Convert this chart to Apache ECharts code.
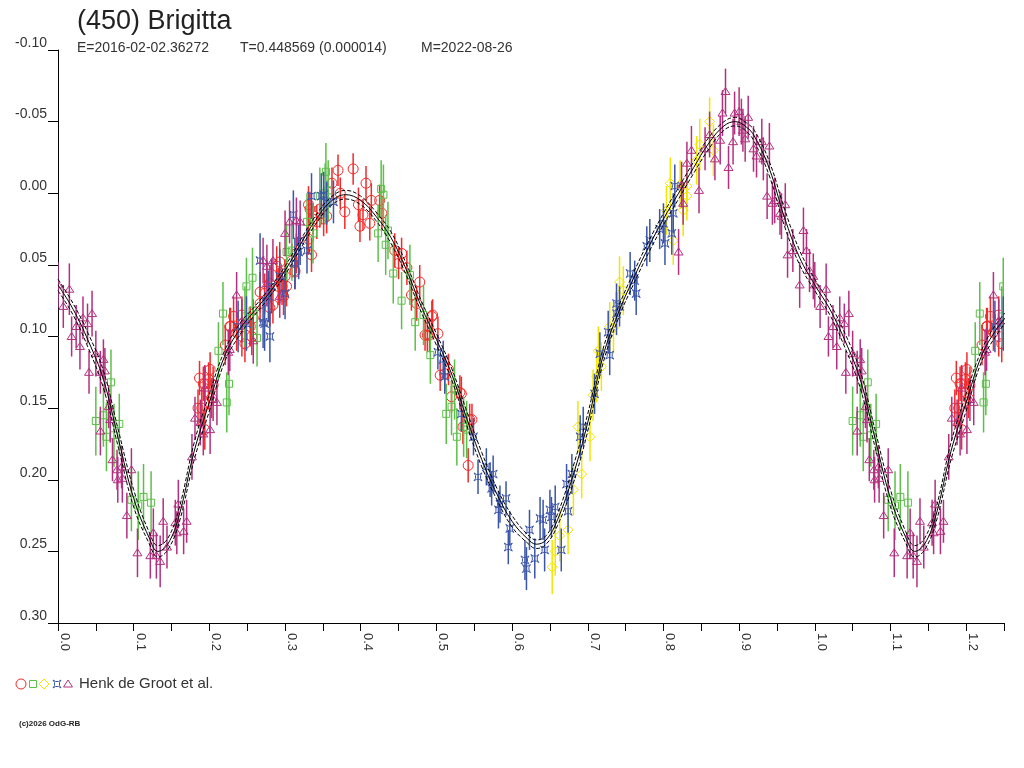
<!DOCTYPE html>
<html>
<head>
    <meta charset="utf-8">
    <title>(450) Brigitta</title>
    <script src="https://cdn.jsdelivr.net/npm/echarts@6/dist/echarts.min.js"></script>
</head>
<body style="margin:0">
    <div id="main" style="width:1024px; height:768px"></div>
    <script type="text/javascript">
        // observations: [phase, magnitude, error]
        var redObs = [
            [0.187,0.129,0.012],[0.194,0.133,0.013],[0.199,0.139,0.012],[0.203,0.143,0.014],[0.201,0.123,0.012],
            [0.190,0.150,0.013],[0.194,0.165,0.014],[0.199,0.130,0.012],[0.205,0.134,0.013],[0.192,0.133,0.012],
            [0.185,0.150,0.013],[0.221,0.106,0.014],[0.227,0.093,0.013],[0.232,0.086,0.014],[0.236,0.097,0.013],
            [0.243,0.100,0.014],[0.247,0.105,0.013],[0.254,0.093,0.014],[0.256,0.100,0.013],[0.267,0.069,0.014],
            [0.267,0.077,0.013],[0.273,0.070,0.014],[0.280,0.080,0.013],[0.289,0.051,0.014],[0.291,0.065,0.013],
            [0.293,0.048,0.014],[0.298,0.072,0.013],[0.302,0.065,0.014],[0.313,0.054,0.013],[0.315,0.042,0.014],
            [0.331,0.008,0.013],[0.342,0.020,0.012],[0.346,0.011,0.013],[0.355,0.016,0.012],[0.370,-0.016,0.011],
            [0.390,-0.017,0.011],[0.407,-0.007,0.012],[0.373,0.000,0.011],[0.379,0.013,0.012],[0.362,-0.007,0.011],
            [0.397,0.008,0.012],[0.399,0.023,0.011],[0.412,0.021,0.012],[0.403,0.015,0.011],[0.414,0.005,0.012],
            [0.425,0.005,0.011],[0.428,0.014,0.012],[0.333,0.011,0.012],[0.337,0.018,0.011],[0.351,0.018,0.012],
            [0.331,0.032,0.011],[0.335,0.043,0.012],[0.309,0.047,0.012],[0.313,0.055,0.011],[0.300,0.058,0.012],
            [0.445,0.040,0.012],[0.454,0.042,0.011],[0.461,0.052,0.012],[0.450,0.049,0.011],[0.478,0.062,0.012],
            [0.467,0.071,0.011],[0.474,0.077,0.012],[0.494,0.086,0.011],[0.491,0.099,0.012],[0.485,0.099,0.011],
            [0.502,0.098,0.012],[0.505,0.127,0.011],[0.511,0.126,0.012],[0.520,0.142,0.011],[0.533,0.140,0.012],
            [0.544,0.158,0.011],[0.542,0.190,0.012],[0.495,0.085,0.011],[0.488,0.099,0.012],[0.516,0.123,0.011],
            [0.531,0.139,0.012],[0.547,0.158,0.011],[0.535,0.163,0.012],[0.228,0.093,0.013],[0.243,0.085,0.013],
            [0.258,0.087,0.013],[0.280,0.063,0.013],[0.284,0.078,0.013],[0.296,0.065,0.013]
        ];
        var greenObs = [
            [0.050,0.159,0.024],[0.060,0.155,0.022],[0.070,0.132,0.023],[0.064,0.170,0.024],[0.074,0.169,0.022],
            [0.081,0.161,0.021],[0.097,0.214,0.022],[0.106,0.218,0.024],[0.113,0.212,0.023],[0.123,0.216,0.022],
            [0.212,0.110,0.020],[0.218,0.084,0.022],[0.223,0.146,0.021],[0.226,0.133,0.022],[0.249,0.065,0.020],
            [0.257,0.059,0.021],[0.257,0.082,0.020],[0.247,0.086,0.021],[0.263,0.101,0.020],[0.302,0.041,0.020],
            [0.309,0.040,0.021],[0.329,0.020,0.020],[0.337,0.028,0.021],[0.346,0.002,0.020],[0.353,0.000,0.021],
            [0.354,-0.015,0.020],[0.357,-0.002,0.021],[0.427,-0.003,0.020],[0.430,0.001,0.021],[0.423,0.028,0.020],
            [0.433,0.036,0.021],[0.436,0.026,0.020],[0.443,0.056,0.021],[0.454,0.075,0.020],[0.465,0.057,0.021],
            [0.472,0.090,0.020],[0.483,0.085,0.021],[0.492,0.113,0.020],[0.513,0.154,0.021],[0.520,0.149,0.020],
            [0.524,0.137,0.021],[0.527,0.170,0.020],[0.536,0.163,0.021],[0.540,0.165,0.020]
        ];
        var yellowObs = [
            [0.653,0.261,0.019],[0.657,0.250,0.017],[0.663,0.239,0.018],[0.674,0.235,0.017],[0.681,0.207,0.018],
            [0.692,0.196,0.017],[0.687,0.163,0.018],[0.703,0.170,0.017],[0.707,0.141,0.018],[0.718,0.121,0.017],
            [0.712,0.128,0.018],[0.714,0.110,0.017],[0.734,0.094,0.018],[0.729,0.093,0.017],[0.742,0.062,0.018],
            [0.747,0.068,0.017],[0.804,0.012,0.017],[0.809,-0.007,0.018],[0.822,-0.006,0.017],[0.831,-0.005,0.018],
            [0.831,0.002,0.017],[0.826,0.012,0.018],[0.844,-0.023,0.017],[0.848,-0.034,0.018],[0.861,-0.050,0.017],
            [0.866,-0.030,0.018],[0.813,0.033,0.017]
        ];
        var blueObs = [
            [0.238,0.093,0.018],[0.249,0.091,0.019],[0.267,0.047,0.019],[0.280,0.100,0.018],[0.273,0.091,0.019],
            [0.300,0.070,0.018],[0.293,0.058,0.019],[0.313,0.049,0.018],[0.318,0.041,0.019],[0.335,0.002,0.016],
            [0.351,0.001,0.016],[0.355,0.007,0.015],[0.348,0.002,0.016],[0.364,0.006,0.015],[0.311,0.015,0.017],
            [0.320,0.033,0.017],[0.329,0.040,0.016],[0.271,0.090,0.018],[0.282,0.065,0.019],[0.278,0.072,0.018],
            [0.502,0.111,0.012],[0.509,0.116,0.013],[0.511,0.128,0.012],[0.533,0.154,0.012],[0.549,0.170,0.013],
            [0.555,0.198,0.012],[0.566,0.191,0.013],[0.571,0.200,0.012],[0.575,0.196,0.013],[0.573,0.206,0.012],
            [0.584,0.217,0.013],[0.592,0.213,0.012],[0.582,0.221,0.013],[0.597,0.234,0.012],[0.595,0.247,0.012],
            [0.623,0.235,0.014],[0.617,0.256,0.014],[0.619,0.262,0.015],[0.630,0.255,0.014],[0.637,0.227,0.015],
            [0.641,0.228,0.014],[0.643,0.249,0.015],[0.650,0.221,0.014],[0.657,0.219,0.015],[0.652,0.226,0.014],
            [0.665,0.249,0.015],[0.672,0.203,0.014],[0.674,0.222,0.015],[0.679,0.196,0.014],[0.690,0.170,0.015],
            [0.694,0.163,0.014],[0.709,0.140,0.014],[0.716,0.112,0.015],[0.729,0.113,0.014],[0.738,0.084,0.015],
            [0.742,0.079,0.014],[0.727,0.097,0.015],[0.738,0.077,0.014],[0.756,0.056,0.015],[0.762,0.061,0.014],
            [0.764,0.070,0.015],[0.778,0.037,0.014],[0.782,0.033,0.015],[0.795,0.025,0.014],[0.802,0.035,0.015],
            [0.800,0.021,0.014],[0.811,0.028,0.015],[0.813,0.014,0.014],[0.815,-0.005,0.015]
        ];
        var purpleObs = [
            [0.000,0.064,0.016],[0.007,0.079,0.015],[0.015,0.067,0.018],[0.018,0.100,0.014],[0.024,0.093,0.015],
            [0.029,0.107,0.016],[0.033,0.087,0.015],[0.039,0.091,0.014],[0.045,0.084,0.016],[0.041,0.125,0.015],
            [0.050,0.112,0.016],[0.056,0.125,0.015],[0.060,0.116,0.014],[0.062,0.124,0.016],[0.056,0.166,0.017],
            [0.067,0.149,0.015],[0.069,0.158,0.016],[0.072,0.186,0.015],[0.078,0.193,0.014],[0.079,0.200,0.016],
            [0.084,0.191,0.015],[0.085,0.199,0.017],[0.091,0.225,0.016],[0.097,0.193,0.015],[0.105,0.251,0.017],
            [0.122,0.253,0.016],[0.126,0.237,0.017],[0.130,0.253,0.016],[0.135,0.257,0.018],[0.139,0.229,0.016],
            [0.144,0.247,0.015],[0.155,0.230,0.016],[0.159,0.217,0.017],[0.157,0.237,0.015],[0.166,0.236,0.016],
            [0.170,0.229,0.015],[0.177,0.184,0.016],[0.181,0.157,0.015],[0.188,0.160,0.016],[0.192,0.168,0.015],
            [0.194,0.136,0.016],[0.201,0.165,0.017],[0.205,0.144,0.015],[0.210,0.146,0.016],[0.225,0.111,0.016],
            [0.227,0.109,0.015],[0.236,0.071,0.016],[0.243,0.089,0.015],[0.258,0.103,0.016],[0.276,0.051,0.015],
            [0.276,0.063,0.016],[0.293,0.072,0.015],[0.300,0.028,0.016],[0.306,0.020,0.015],[0.315,0.019,0.016],
            [0.320,0.020,0.015],[0.271,0.047,0.016],[0.284,0.047,0.015],
            [0.820,0.041,0.016],[0.826,0.007,0.015],[0.824,-0.006,0.016],[0.831,-0.021,0.015],[0.837,-0.030,0.017],
            [0.847,-0.002,0.016],[0.855,-0.031,0.015],[0.861,-0.041,0.016],[0.868,-0.024,0.015],[0.875,-0.037,0.017],
            [0.878,-0.056,0.016],[0.882,-0.071,0.016],[0.886,-0.018,0.015],[0.892,-0.036,0.016],[0.894,-0.056,0.015],
            [0.900,-0.057,0.017],[0.903,-0.050,0.016],[0.905,-0.044,0.015],[0.908,-0.038,0.016],[0.912,-0.053,0.015],
            [0.919,-0.031,0.016],[0.923,-0.026,0.015],[0.930,-0.036,0.016],[0.932,-0.024,0.015],[0.940,-0.033,0.016],
            [0.937,0.002,0.016],[0.944,0.007,0.015],[0.947,0.005,0.016],[0.954,0.014,0.015],[0.956,0.016,0.016],
            [0.961,0.008,0.015],[0.964,0.043,0.016],[0.971,0.040,0.015],[0.985,0.026,0.016],[0.989,0.040,0.015],
            [0.980,0.064,0.016],[0.993,0.054,0.015],[0.998,0.058,0.016]
        ];

        // fitted light curve, with its uncertainty band
        var fitPhase = [0.00,0.02,0.04,0.06,0.08,0.10,0.12,0.132,0.145,0.16,0.18,0.20,0.22,0.24,0.26,0.28,0.30,0.32,0.34,0.36,
                        0.38,0.40,0.42,0.44,0.46,0.48,0.50,0.52,0.54,0.56,0.58,0.60,0.62,0.632,0.645,0.66,0.68,0.70,0.72,0.74,
                        0.76,0.78,0.80,0.82,0.84,0.86,0.88,0.895,0.91,0.92,0.94,0.96,0.98,1.00];
        var fitMag = [0.064,0.081,0.103,0.130,0.172,0.213,0.240,0.250,0.245,0.225,0.180,0.146,0.114,0.095,0.082,0.069,0.054,0.036,0.019,0.006,
                      0.001,0.005,0.016,0.031,0.053,0.079,0.102,0.126,0.157,0.186,0.210,0.229,0.241,0.245,0.242,0.228,0.198,0.160,0.114,0.084,
                      0.060,0.038,0.018,0.000,-0.018,-0.035,-0.047,-0.050,-0.046,-0.040,-0.017,0.017,0.045,0.064];
        var fitSpread = [0.004,0.004,0.005,0.006,0.006,0.006,0.004,0.004,0.004,0.005,0.006,0.006,0.004,0.004,0.003,0.003,0.003,0.003,0.003,0.003,
                         0.003,0.003,0.003,0.004,0.004,0.004,0.004,0.004,0.005,0.005,0.004,0.004,0.003,0.003,0.003,0.004,0.006,0.006,0.005,0.004,
                         0.004,0.004,0.004,0.004,0.004,0.004,0.003,0.003,0.003,0.004,0.005,0.006,0.005,0.004];

        var xTicks = ['0.0','0.1','0.2','0.3','0.4','0.5','0.6','0.7','0.8','0.9','1.0','1.1','1.2'];
        var PHASE_MAX = 1.25;

        // repeat the start of the cycle after phase 1
        function wrap(obs) {
            var out = obs.slice();
            obs.forEach(function (p) {
                if (p[0] + 1 <= PHASE_MAX) out.push([p[0] + 1].concat(p.slice(1)));
            });
            return out;
        }

        function fitLine(offset) {
            var pts = [];
            for (var i = 0; i < fitPhase.length; i++) {
                pts.push([fitPhase[i], fitMag[i] + offset * fitSpread[i]]);
            }
            for (var j = 1; j < fitPhase.length; j++) {
                if (fitPhase[j] > 0.27) break;
                pts.push([fitPhase[j] + 1, fitMag[j] + offset * fitSpread[j]]);
            }
            return pts;
        }

        function markShape(kind, x, y, color) {
            var st = { fill: 'none', stroke: color, lineWidth: 1 };
            if (kind === 'circle') return { type: 'circle', shape: { cx: x, cy: y, r: 5 }, style: st };
            if (kind === 'square') return { type: 'rect', shape: { x: x - 3.5, y: y - 3.5, width: 7, height: 7 }, style: st };
            if (kind === 'diamond') return { type: 'polygon', shape: { points: [[x, y - 5], [x + 5, y], [x, y + 5], [x - 5, y]] }, style: st };
            if (kind === 'triangle') return { type: 'polygon', shape: { points: [[x, y - 4], [x + 4.5, y + 3], [x - 4.5, y + 3]] }, style: st };
            // blue star-square
            return {
                type: 'polygon',
                shape: { points: [[x - 4, y - 4], [x - 1.5, y - 2.5], [x + 1.5, y - 2.5], [x + 4, y - 4], [x + 2.5, y - 1.5], [x + 2.5, y + 1.5],
                                  [x + 4, y + 4], [x + 1.5, y + 2.5], [x - 1.5, y + 2.5], [x - 4, y + 4], [x - 2.5, y + 1.5], [x - 2.5, y - 1.5]] },
                style: st
            };
        }

        function obsSeries(name, data, kind, color) {
            return {
                name: name,
                type: 'custom',
                data: wrap(data),
                encode: { x: 0, y: 1 },
                clip: true,
                renderItem: function (params, api) {
                    var ph = api.value(0), m = api.value(1), e = api.value(2);
                    var c = api.coord([ph, m]);
                    var top = api.coord([ph, m - e]);
                    var bot = api.coord([ph, m + e]);
                    return {
                        type: 'group',
                        children: [
                            { type: 'line', shape: { x1: c[0], y1: top[1], x2: c[0], y2: bot[1] }, style: { stroke: color, lineWidth: 1.5 } },
                            markShape(kind, c[0], c[1], color)
                        ]
                    };
                }
            };
        }

        var RED = '#f22a2a', GREEN = '#5cbf48', YELLOW = '#f2e600', BLUE = '#3b55a8', PURPLE = '#b3307f';
        var FONT = '"Liberation Sans", Arial, sans-serif';

        var myChart = echarts.init(document.getElementById('main'));

        var option = {
            backgroundColor: '#fff',
            animation: false,
            grid: { left: 58, right: 20, top: 50, bottom: 145 },
            xAxis: {
                type: 'value',
                min: 0,
                max: PHASE_MAX,
                interval: 0.05,
                splitLine: { show: false },
                axisLine: { onZero: false, lineStyle: { color: '#000', width: 1 } },
                axisTick: { length: 8, lineStyle: { color: '#000' } },
                axisLabel: {
                    rotate: -90,
                    margin: 10,
                    verticalAlign: 'bottom',
                    color: '#333',
                    fontSize: 13,
                    fontFamily: FONT,
                    hideOverlap: false,
                    formatter: function (v) {
                        var k = Math.round(v * 20);
                        return k % 2 === 0 ? xTicks[k / 2] : '';
                    }
                }
            },
            yAxis: {
                type: 'value',
                inverse: true,
                min: -0.10,
                max: 0.30,
                interval: 0.05,
                splitLine: { show: false },
                axisLine: { show: true, onZero: false, lineStyle: { color: '#000', width: 1 } },
                axisTick: { show: true, length: 10, lineStyle: { color: '#000' } },
                axisLabel: {
                    margin: 11,
                    verticalAlign: 'bottom',
                    color: '#333',
                    fontSize: 14,
                    fontFamily: FONT,
                    formatter: function (v) { return v.toFixed(2); }
                }
            },
            graphic: [
                { type: 'text', left: 77, top: 8, style: { text: '(450) Brigitta', fontSize: 27, fontFamily: FONT, fill: '#222' } },
                { type: 'text', left: 77, top: 41, style: { text: 'E=2016-02-02.36272', fontSize: 14, fontFamily: FONT, fill: '#333' } },
                { type: 'text', left: 240, top: 41, style: { text: 'T=0.448569 (0.000014)', fontSize: 14, fontFamily: FONT, fill: '#333' } },
                { type: 'text', left: 421, top: 41, style: { text: 'M=2022-08-26', fontSize: 14, fontFamily: FONT, fill: '#333' } },
                { type: 'circle', shape: { cx: 21, cy: 684, r: 5 }, style: { fill: 'none', stroke: RED, lineWidth: 1 } },
                { type: 'rect', shape: { x: 29.5, y: 680.5, width: 7, height: 7 }, style: { fill: 'none', stroke: GREEN, lineWidth: 1 } },
                { type: 'polygon', shape: { points: [[44, 679], [49, 684], [44, 689], [39, 684]] }, style: { fill: 'none', stroke: YELLOW, lineWidth: 1 } },
                markShape('star', 57, 684, BLUE),
                markShape('triangle', 68, 684, PURPLE),
                { type: 'text', left: 79, top: 676, style: { text: 'Henk de Groot et al.', fontSize: 15, fontFamily: FONT, fill: '#333' } },
                { type: 'text', left: 19, top: 720, style: { text: '(c)2026 OdG-RB', fontSize: 8, fontWeight: 'bold', fontFamily: FONT, fill: '#222' } }
            ],
            series: [
                obsSeries('red', redObs, 'circle', RED),
                obsSeries('green', greenObs, 'square', GREEN),
                obsSeries('yellow', yellowObs, 'diamond', YELLOW),
                obsSeries('blue', blueObs, 'star', BLUE),
                obsSeries('purple', purpleObs, 'triangle', PURPLE),
                { name: 'fit', type: 'line', data: fitLine(0), smooth: 0.4, symbol: 'none', z: 5,
                  lineStyle: { color: '#000', width: 1 } },
                { name: 'fit+', type: 'line', data: fitLine(1), smooth: 0.4, symbol: 'none', z: 5,
                  lineStyle: { color: '#000', width: 1, type: [4, 2] } },
                { name: 'fit-', type: 'line', data: fitLine(-1), smooth: 0.4, symbol: 'none', z: 5,
                  lineStyle: { color: '#000', width: 1, type: [4, 2] } }
            ]
        };

        myChart.setOption(option);
    </script>
</body>
</html>
